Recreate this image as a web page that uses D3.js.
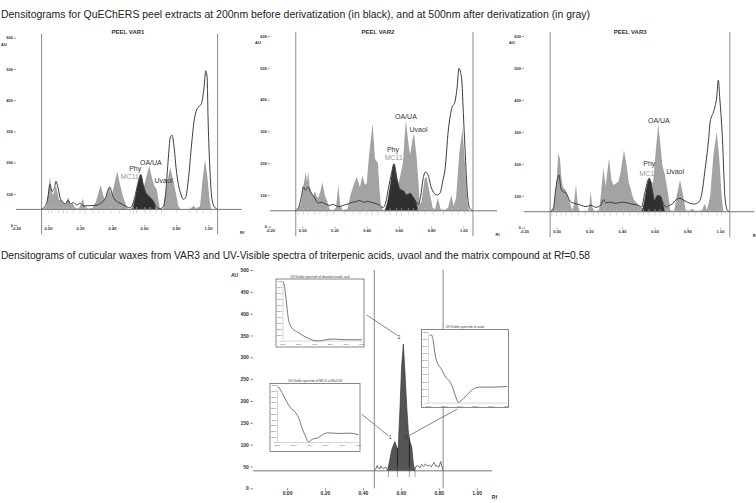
<!DOCTYPE html>
<html><head><meta charset="utf-8">
<script src="https://cdn.jsdelivr.net/npm/d3@7"></script>
<style>
html,body{margin:0;padding:0;background:#fff;}
svg{display:block;font-family:"Liberation Sans",Arial,sans-serif;}
</style></head><body>
<svg id="chart" width="756" height="503"></svg>
<script>
// ---------------- DATA ----------------
const titleTop = "Densitograms for QuEChERS peel extracts at 200nm before derivatization (in black), and at 500nm after derivatization (in gray)";
const titleBottom = "Densitograms of cuticular waxes from VAR3 and UV-Visible spectra of triterpenic acids, uvaol and the matrix compound at Rf=0.58";
const panelNames = ["PEEL VAR1", "PEEL VAR2", "PEEL VAR3"];
const yTicksTop = [0, 100, 200, 300, 400, 500, 600];
const xTicksTop = [-0.2, 0, 0.2, 0.4, 0.6, 0.8, 1.0];
const baselineAU = 50;
const applicationLines = [-0.04, 1.06];

// [Rf, AU] – 500 nm after derivatization (gray)
const var1Gray = [[-0.03,50],[-0.01,60],[0.0,100],[0.012,155],[0.02,120],[0.03,95],[0.04,110],[0.05,125],[0.06,100],[0.07,80],[0.085,80],[0.095,72],[0.11,65],[0.127,90],[0.14,65],[0.155,68],[0.17,55],[0.19,52],[0.205,65],[0.217,85],[0.23,60],[0.25,52],[0.28,55],[0.30,75],[0.329,128],[0.345,95],[0.355,80],[0.37,100],[0.383,125],[0.395,95],[0.405,110],[0.433,171],[0.45,130],[0.47,90],[0.49,60],[0.50,50],[0.52,52],[0.545,90],[0.565,130],[0.58,150],[0.60,125],[0.633,190],[0.65,150],[0.665,125],[0.679,115],[0.69,80],[0.70,52],[0.72,52],[0.74,120],[0.763,185],[0.78,150],[0.80,100],[0.815,60],[0.83,50],[0.89,52],[0.91,62],[0.925,52],[0.95,60],[0.965,140],[0.981,210],[0.995,160],[1.01,80],[1.02,52],[1.03,50]];
// 200 nm before derivatization (black line)
const var1Black = [[-0.04,52],[-0.02,58],[0.0,90],[0.012,130],[0.025,108],[0.04,118],[0.05,140],[0.06,125],[0.075,88],[0.09,74],[0.11,68],[0.125,80],[0.14,67],[0.16,72],[0.18,64],[0.2,70],[0.22,61],[0.26,62],[0.3,63],[0.33,70],[0.36,88],[0.375,112],[0.387,122],[0.40,100],[0.42,80],[0.45,70],[0.48,62],[0.51,55],[0.525,62],[0.545,95],[0.565,140],[0.58,162],[0.595,130],[0.61,105],[0.63,92],[0.65,82],[0.665,70],[0.68,56],[0.70,52],[0.72,58],[0.735,100],[0.75,200],[0.765,282],[0.775,288],[0.79,240],[0.80,185],[0.815,130],[0.83,100],[0.846,82],[0.86,88],[0.877,144],[0.898,262],[0.915,340],[0.93,370],[0.945,380],[0.96,390],[0.975,440],[0.986,494],[0.995,470],[1.0,350],[1.01,200],[1.018,120],[1.03,70],[1.045,55],[1.06,51]];
// Phy region (black fill)
const var1Dark = [[0.52,50],[0.535,62],[0.55,100],[0.565,140],[0.58,162],[0.595,130],[0.61,105],[0.63,92],[0.65,82],[0.665,70],[0.675,50]];
const var1Markers = [0.002,0.023,0.065,0.096,0.121,0.158,0.2,0.231,0.283,0.315,0.35,0.392,0.446,0.513,0.533,0.554,0.606,0.638,0.675,0.71,0.804,0.888,0.929,0.971,1.013];
const var1Labels = [{t:"OA/UA",rf:0.643,au:192,c:"#333"},{t:"Phy",rf:0.545,au:172,c:"#333"},{t:"MC11",rf:0.512,au:146,c:"#9a9a9a"},{t:"Uvaol",rf:0.722,au:133,c:"#333"}];

const var2Gray = [[-0.035,50],[-0.01,70],[0.005,120],[0.022,172],[0.03,140],[0.036,175],[0.045,130],[0.058,108],[0.068,95],[0.079,112],[0.09,95],[0.1,90],[0.112,110],[0.125,140],[0.14,100],[0.155,80],[0.17,55],[0.19,50],[0.21,60],[0.224,131],[0.235,70],[0.25,52],[0.28,55],[0.3,100],[0.318,130],[0.338,157],[0.358,124],[0.373,160],[0.39,132],[0.40,135],[0.415,225],[0.437,325],[0.452,214],[0.47,200],[0.478,130],[0.488,70],[0.50,52],[0.51,52],[0.54,90],[0.57,150],[0.60,140],[0.625,200],[0.643,336],[0.66,260],[0.67,226],[0.683,270],[0.694,294],[0.71,220],[0.72,152],[0.73,70],[0.74,80],[0.76,150],[0.772,158],[0.79,110],[0.81,60],[0.825,55],[0.841,90],[0.86,55],[0.88,52],[0.905,60],[0.926,100],[0.94,65],[0.955,90],[0.975,230],[0.995,310],[1.01,200],[1.025,80],[1.035,52]];
const var2Black = [[-0.045,50],[-0.025,58],[-0.005,95],[0.007,126],[0.02,115],[0.035,125],[0.05,110],[0.065,100],[0.08,88],[0.1,74],[0.12,77],[0.15,70],[0.17,67],[0.19,70],[0.21,66],[0.23,63],[0.25,66],[0.27,70],[0.29,72],[0.31,77],[0.33,78],[0.35,82],[0.37,80],[0.385,76],[0.40,80],[0.42,78],[0.44,75],[0.46,72],[0.48,68],[0.50,60],[0.515,70],[0.535,120],[0.555,170],[0.57,198],[0.585,160],[0.60,125],[0.617,115],[0.63,112],[0.645,100],[0.66,103],[0.67,105],[0.69,92],[0.705,80],[0.72,70],[0.735,95],[0.75,150],[0.765,172],[0.78,165],[0.80,125],[0.82,105],[0.835,100],[0.855,105],[0.875,150],[0.886,178],[0.907,304],[0.928,372],[0.948,393],[0.962,440],[0.973,498],[0.99,465],[1.0,360],[1.01,252],[1.027,95],[1.04,58],[1.06,50]];
const var2Dark = [[0.51,50],[0.525,70],[0.545,130],[0.57,198],[0.585,160],[0.60,125],[0.617,115],[0.63,112],[0.645,100],[0.66,103],[0.67,105],[0.69,92],[0.705,80],[0.72,50]];
const var2Markers = [-0.024,0.007,0.038,0.079,0.110,0.152,0.193,0.266,0.317,0.359,0.4,0.435,0.469,0.514,0.545,0.586,0.617,0.659,0.69,0.72,0.762,0.814,0.876,0.928,0.969,1.01];
const var2Labels = [{t:"OA/UA",rf:0.644,au:339,c:"#333"},{t:"Uvaol",rf:0.722,au:299,c:"#333"},{t:"Phy",rf:0.563,au:236,c:"#333"},{t:"MC11",rf:0.568,au:209,c:"#9a9a9a"}];

const var3Gray = [[-0.035,50],[-0.015,70],[0.0,150],[0.01,233],[0.02,217],[0.03,150],[0.04,125],[0.057,117],[0.07,95],[0.08,80],[0.095,55],[0.105,70],[0.118,136],[0.13,70],[0.14,52],[0.19,52],[0.2,70],[0.208,113],[0.218,65],[0.23,52],[0.26,55],[0.27,100],[0.286,186],[0.3,130],[0.32,217],[0.335,150],[0.347,134],[0.378,144],[0.39,170],[0.412,243],[0.43,190],[0.44,145],[0.47,90],[0.51,65],[0.53,60],[0.55,110],[0.57,150],[0.59,140],[0.605,230],[0.622,325],[0.635,260],[0.647,196],[0.663,165],[0.683,105],[0.695,55],[0.72,52],[0.735,100],[0.755,149],[0.775,100],[0.79,55],[0.81,52],[0.83,60],[0.845,52],[0.89,55],[0.906,75],[0.92,55],[0.94,100],[0.96,230],[0.98,300],[0.995,220],[1.01,100],[1.02,52]];
const var3Black = [[-0.04,50],[-0.02,60],[-0.01,102],[0.0,140],[0.015,165],[0.025,125],[0.04,112],[0.055,110],[0.066,100],[0.087,80],[0.12,75],[0.15,70],[0.18,66],[0.21,70],[0.24,64],[0.27,70],[0.286,88],[0.30,78],[0.33,80],[0.36,76],[0.40,80],[0.43,78],[0.46,74],[0.50,70],[0.52,65],[0.54,110],[0.567,155],[0.585,120],[0.60,85],[0.615,100],[0.633,100],[0.65,80],[0.665,65],[0.69,70],[0.71,75],[0.725,85],[0.755,92],[0.78,85],[0.80,80],[0.84,74],[0.87,80],[0.89,110],[0.908,180],[0.93,275],[0.94,332],[0.96,362],[0.98,410],[0.99,462],[0.998,410],[1.017,254],[1.025,150],[1.03,97],[1.045,55],[1.06,50]];
const var3Dark = [[0.52,50],[0.535,80],[0.55,125],[0.567,155],[0.585,120],[0.60,85],[0.615,100],[0.633,100],[0.65,75],[0.663,50]];
const var3Markers = [-0.03,0.0,0.027,0.055,0.092,0.133,0.174,0.225,0.255,0.292,0.327,0.368,0.408,0.449,0.5,0.531,0.565,0.602,0.633,0.674,0.714,0.755,0.806,0.847,0.888,0.929,0.98,1.011];
const var3Labels = [{t:"OA/UA",rf:0.626,au:328,c:"#333"},{t:"Phy",rf:0.567,au:194,c:"#333"},{t:"MC11",rf:0.562,au:163,c:"#9a9a9a"},{t:"Uvaol",rf:0.725,au:168,c:"#333"}];

// bottom densitogram (cuticular waxes VAR3)
const yTicksWax = [0,50,100,150,200,250,300,350,400,450,500];
const xTicksWax = [0,0.2,0.4,0.6,0.8,1.0];
const waxBaselineAU = 40;
const waxLines = [0.46, 0.823];
const waxNoiseLeft = [[0.46,41],[0.47,46],[0.475,52],[0.48,47],[0.49,45],[0.495,51],[0.50,47],[0.51,45],[0.52,49],[0.53,42]];
const waxPeak = [[0.53,40],[0.538,57],[0.552,88],[0.568,107],[0.578,95],[0.586,88],[0.596,187],[0.604,278],[0.613,330],[0.622,263],[0.631,187],[0.64,126],[0.648,107],[0.657,95],[0.666,57],[0.672,40]];
const waxNoiseRight = [[0.672,42],[0.68,50],[0.69,52],[0.70,47],[0.71,55],[0.72,50],[0.73,56],[0.74,51],[0.75,53],[0.76,49],[0.775,59],[0.785,50],[0.79,52],[0.80,48],[0.81,61],[0.818,47],[0.823,42]];
const waxSeparators = [0.582, 0.645];
const waxMarkers = [0.535, 0.582, 0.645, 0.675];
const waxPeakLabels = [{t:"1",rf:0.543,au:112},{t:"2",rf:0.59,au:341},{t:"3",rf:0.626,au:114}];

// UV-Visible spectra: [wavelength nm, absorbance]
const specXTicks = [200,300,400,500,600,700];
const specYTicks = [0,100,200,300,400,500,600,700,800,900,1000];
const oaSpectrum = [[200,1000],[210,918],[221,670],[231,423],[242,286],[262,203],[294,148],[325,93],[367,38],[408,3],[440,2],[471,22],[523,33],[596,22],[700,22]];
const mc11Spectrum = [[206,983],[220,915],[241,802],[262,689],[282,605],[313,520],[334,407],[354,237],[375,96],[391,11],[406,40],[426,68],[447,79],[478,136],[509,169],[581,158],[642,164],[700,136]];
const uvaolSpectrum = [[209,945],[217,963],[230,877],[243,671],[258,557],[279,489],[311,361],[332,315],[354,215],[375,78],[390,9],[407,32],[439,100],[482,192],[525,224],[610,224],[700,233]];
const spectrumTitles = ["UV-Visible spectrum of oleanolic/ursolic acid","UV-Visible spectrum of MC11 at Rf=0.58","UV-Visible spectrum of uvaol"];

// ---------------- LAYOUT ----------------
const svg = d3.select("#chart");
const panels = [
  {name: panelNames[0], gray: var1Gray, black: var1Black, dark: var1Dark, markers: var1Markers, labels: var1Labels, x0:16, x1:208, y0:225, y1:37.7, titleRf:0.5},
  {name: panelNames[1], gray: var2Gray, black: var2Black, dark: var2Dark, markers: var2Markers, labels: var2Labels, x0:270, x1:463.3, y0:226.7, y1:36, titleRf:0.47},
  {name: panelNames[2], gray: var3Gray, black: var3Black, dark: var3Dark, markers: var3Markers, labels: var3Labels, x0:524, x1:720, y0:227.7, y1:36, titleRf:0.45}
];

const GRAY = "#a3a3a3", DARK = "#262626", LINE = "#3c3c3c", REF = "#8a8a8a";

svg.append("text").attr("x",1).attr("y",17.5).attr("font-size",10).attr("fill","#222")
  .attr("textLength",589).attr("lengthAdjust","spacingAndGlyphs").text(titleTop);
svg.append("text").attr("x",1).attr("y",258.5).attr("font-size",10).attr("fill","#222")
  .attr("textLength",589).attr("lengthAdjust","spacingAndGlyphs").text(titleBottom);

panels.forEach(p => {
  const x = d3.scaleLinear().domain([-0.2, 1.0]).range([p.x0, p.x1]);
  const y = d3.scaleLinear().domain([0, 600]).range([p.y0, p.y1]);
  const g = svg.append("g");

  g.selectAll(".vl").data(applicationLines).enter().append("line")
    .attr("x1", d => x(d)).attr("x2", d => x(d))
    .attr("y1", y(612)).attr("y2", y(-30))
    .attr("stroke", REF).attr("stroke-width", 1);

  const area = d3.area().x(d => x(d[0])).y0(y(baselineAU)).y1(d => y(d[1]));
  g.append("path").datum(p.gray).attr("d", area).attr("fill", GRAY);
  g.append("path").datum(p.dark).attr("d", area.curve(d3.curveMonotoneX)).attr("fill", DARK).attr("fill-opacity", 0.92);

  g.selectAll(".mk").data(p.markers).enter().append("line")
    .attr("x1", d => x(d)).attr("x2", d => x(d))
    .attr("y1", y(36)).attr("y2", y(58))
    .attr("stroke", "#c4c4c4").attr("stroke-width", 0.6);

  const line = d3.line().x(d => x(d[0])).y(d => y(d[1])).curve(d3.curveMonotoneX);
  g.append("path").datum(p.black).attr("d", line).attr("fill", "none")
    .attr("stroke", LINE).attr("stroke-width", 1);

  g.append("line").attr("x1", x(-0.2)).attr("x2", x(1.21))
    .attr("y1", y(baselineAU)).attr("y2", y(baselineAU))
    .attr("stroke", "#777").attr("stroke-width", 1);

  const ya = g.append("g").attr("transform", `translate(${x(-0.2)},0)`)
    .call(d3.axisLeft(y).tickValues(yTicksTop).tickSize(2).tickPadding(1).tickFormat(d3.format("d")));
  const xa = g.append("g").attr("transform", `translate(0,${p.y0})`)
    .call(d3.axisBottom(x).tickValues(xTicksTop).tickSize(1.5).tickPadding(1).tickFormat(d => d.toFixed(2)));
  [ya, xa].forEach(a => {
    a.select(".domain").remove();
    a.selectAll("text").attr("font-size", 4).attr("fill", "#333").attr("font-weight", "bold").attr("font-family", "Liberation Sans, Arial, sans-serif");
    a.selectAll("line").attr("stroke", "#555").attr("stroke-width", 0.6);
  });

  g.append("text").attr("x", x(-0.2) - 15).attr("y", y(600) + 8).attr("font-size", 4).attr("font-weight","bold").attr("fill","#333").text("AU");
  g.append("text").attr("x", x(1.2)).attr("y", p.y0 + 9).attr("font-size", 4).attr("font-weight","bold").attr("fill","#333").text("Rf");
  g.append("text").attr("x", x(p.titleRf)).attr("y", 34).attr("text-anchor","middle")
    .attr("font-size", 6).attr("font-weight","bold").attr("fill","#333").text(p.name);

  g.selectAll(".lbl").data(p.labels).enter().append("text")
    .attr("x", d => x(d.rf)).attr("y", d => y(d.au)).attr("text-anchor","middle")
    .attr("font-size", 7).attr("fill", d => d.c).text(d => d.t);
});

// ---------------- BOTTOM PANEL ----------------
(function(){
  const x = d3.scaleLinear().domain([-0.18, 1.0]).range([252.9, 476.7]);
  const y = d3.scaleLinear().domain([0, 500]).range([488.3, 270]);
  const g = svg.append("g");

  g.selectAll(".vl").data(waxLines).enter().append("line")
    .attr("x1", d => x(d)).attr("x2", d => x(d))
    .attr("y1", y(500)).attr("y2", y(0))
    .attr("stroke", REF).attr("stroke-width", 1);

  g.append("line").attr("x1", x(-0.18)).attr("x2", x(1.08))
    .attr("y1", y(waxBaselineAU)).attr("y2", y(waxBaselineAU))
    .attr("stroke", "#777").attr("stroke-width", 1);

  const area = d3.area().x(d => x(d[0])).y0(y(waxBaselineAU)).y1(d => y(d[1]));
  g.append("path").datum(waxPeak).attr("d", area).attr("fill", "#555");

  const interp = rf => {
    for (let i = 1; i < waxPeak.length; i++) {
      const a = waxPeak[i-1], b = waxPeak[i];
      if (rf >= a[0] && rf <= b[0]) return a[1] + (b[1]-a[1])*(rf-a[0])/(b[0]-a[0]);
    }
    return waxBaselineAU;
  };
  g.selectAll(".sep").data(waxSeparators).enter().append("line")
    .attr("x1", d => x(d)).attr("x2", d => x(d))
    .attr("y1", y(waxBaselineAU)).attr("y2", d => y(interp(d)))
    .attr("stroke", "#222").attr("stroke-width", 1);

  g.selectAll(".mk").data(waxMarkers).enter().append("line")
    .attr("x1", d => x(d)).attr("x2", d => x(d))
    .attr("y1", y(26)).attr("y2", y(50))
    .attr("stroke", "#666").attr("stroke-width", 0.6);

  const line = d3.line().x(d => x(d[0])).y(d => y(d[1]));
  [waxNoiseLeft, waxPeak, waxNoiseRight].forEach(s => {
    g.append("path").datum(s).attr("d", line).attr("fill","none").attr("stroke","#333").attr("stroke-width",0.7);
  });

  g.selectAll(".pl").data(waxPeakLabels).enter().append("text")
    .attr("x", d => x(d.rf)).attr("y", d => y(d.au)).attr("text-anchor","middle")
    .attr("font-size", 5).attr("fill","#333").text(d => d.t);

  const ya = g.append("g").attr("transform", `translate(${x(-0.18)},0)`)
    .call(d3.axisLeft(y).tickValues(yTicksWax).tickSize(2.5).tickPadding(1.5).tickFormat(d3.format("d")));
  const xa = g.append("g").attr("transform", `translate(0,${y(0)})`)
    .call(d3.axisBottom(x).tickValues(xTicksWax).tickSize(2).tickPadding(1.5).tickFormat(d => d.toFixed(2)));
  [ya, xa].forEach(a => {
    a.select(".domain").remove();
    a.selectAll("text").attr("font-size", 5).attr("fill", "#333").attr("font-weight","bold").attr("font-family", "Liberation Sans, Arial, sans-serif");
    a.selectAll("line").attr("stroke", "#555").attr("stroke-width", 0.7);
  });
  g.append("text").attr("x", 231).attr("y", 277).attr("font-size", 5).attr("font-weight","bold").attr("fill","#333").text("AU");
  g.append("text").attr("x", x(1.08)).attr("y", 499).attr("font-size", 5).attr("font-weight","bold").attr("fill","#333").text("Rf");

  const connectors = [
    {from:[366.7,315], rf:0.583, au:350},
    {from:[361.7,414.3], rf:0.535, au:120},
    {from:[457.3,409], rf:0.64, au:120}
  ];
  g.selectAll(".cn").data(connectors).enter().append("line")
    .attr("x1", d => d.from[0]).attr("y1", d => d.from[1])
    .attr("x2", d => x(d.rf)).attr("y2", d => y(d.au))
    .attr("stroke", "#666").attr("stroke-width", 0.8);

  const insets = [
    {data: oaSpectrum, title: spectrumTitles[0], fx:276, fy:279, fw:88, fh:68, px0:283, px1:362, py0:341, py1:281.5},
    {data: mc11Spectrum, title: spectrumTitles[1], fx:270, fy:383.5, fw:90, fh:68, px0:277.5, px1:358.5, py0:442.5, py1:385.5},
    {data: uvaolSpectrum, title: spectrumTitles[2], fx:421.5, fy:329.5, fw:87, fh:78, px0:428.5, px1:507, py0:403, py1:332}
  ];
  insets.forEach(b => {
    const ig = svg.append("g");
    ig.append("rect").attr("x", b.fx).attr("y", b.fy).attr("width", b.fw).attr("height", b.fh)
      .attr("fill", "#fff").attr("stroke", "#555").attr("stroke-width", 0.7);
    const sx = d3.scaleLinear().domain([200, 700]).range([b.px0, b.px1]);
    const sy = d3.scaleLinear().domain([0, 1000]).range([b.py0, b.py1]);
    ig.append("line").attr("x1", b.px0).attr("x2", b.px1).attr("y1", b.py0).attr("y2", b.py0).attr("stroke","#999").attr("stroke-width",0.4);
    ig.append("line").attr("x1", b.px0).attr("x2", b.px0).attr("y1", b.py0).attr("y2", b.py1).attr("stroke","#999").attr("stroke-width",0.4);
    ig.selectAll(".yt").data(specYTicks).enter().append("text")
      .attr("x", b.px0 - 0.8).attr("y", d => sy(d) + 0.8).attr("text-anchor","end")
      .attr("font-size", 2.2).attr("fill","#333").text(d => d === 1000 ? "1000" : d.toFixed(1));
    ig.selectAll(".xt").data(specXTicks).enter().append("text")
      .attr("x", d => sx(d)).attr("y", b.py0 + 3.5).attr("text-anchor","middle")
      .attr("font-size", 2.2).attr("fill","#333").text(d => d.toFixed(1));
    ig.append("path").datum(b.data)
      .attr("d", d3.line().x(d => sx(d[0])).y(d => sy(d[1])).curve(d3.curveMonotoneX))
      .attr("fill","none").attr("stroke","#555").attr("stroke-width",0.8);
    ig.append("text").attr("x", b.fx + b.fw/2).attr("y", b.fy - 1.5).attr("text-anchor","middle")
      .attr("font-size", 3).attr("fill","#333").text(b.title);
  });
})();
</script>
</body></html>
